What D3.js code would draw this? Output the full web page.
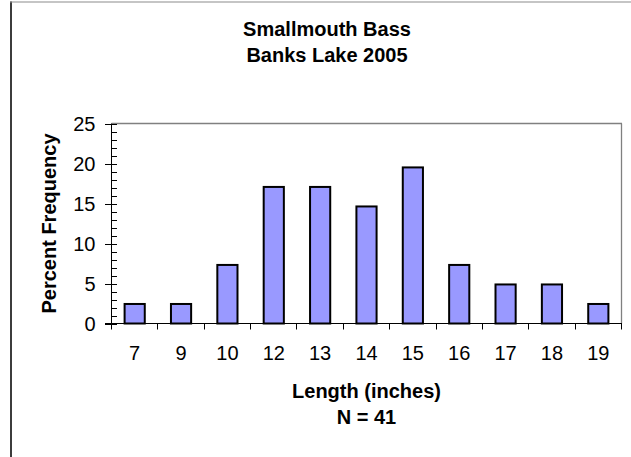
<!DOCTYPE html>
<html>
<head>
<meta charset="utf-8">
<script src="https://cdn.jsdelivr.net/npm/d3@7"></script>
<style>
  html, body { margin: 0; padding: 0; background: #ffffff; }
  svg { display: block; }
  text { font-family: "Liberation Sans", Arial, Helvetica, sans-serif; fill: #000; }
</style>
</head>
<body>
<svg id="chart" width="631" height="457"></svg>
<script>
// ---- data ----
const categories = ["7", "9", "10", "12", "13", "14", "15", "16", "17", "18", "19"];
const percentFrequency = [2.44, 2.44, 7.32, 17.07, 17.07, 14.63, 19.51, 7.32, 4.88, 4.88, 2.44];
const yTickValues = [0, 5, 10, 15, 20, 25];
const titleLines = ["Smallmouth Bass", "Banks Lake 2005"];
const xTitleLines = ["Length (inches)", "N = 41"];
const yTitle = "Percent Frequency";

// ---- layout ----
const svg = d3.select("#chart");
const W = 631, H = 457;
const plot = { left: 111.5, right: 621.5, top: 123.5, bottom: 323.5 };

svg.append("rect").attr("x", 0).attr("y", 0).attr("width", W).attr("height", H).attr("fill", "#fff");

// chart-area frame (left and top visible)
svg.append("line").attr("x1", 11).attr("x2", 11).attr("y1", 1.5).attr("y2", H)
  .attr("stroke", "#3c3c3c").attr("stroke-width", 2);
svg.append("line").attr("x1", 10).attr("x2", W).attr("y1", 2).attr("y2", 2)
  .attr("stroke", "#8c8c8c").attr("stroke-width", 1.2);

// scales
const x = d3.scaleBand().domain(categories).range([plot.left, plot.right]).padding(0);
const xBar = d3.scaleBand().domain(categories).range([plot.left, plot.right])
  .paddingInner(0.565).paddingOuter(0.2825);
const y = d3.scaleLinear().domain([0, 25]).range([plot.bottom, plot.top]);

// plot-area border: top and right in grey
svg.append("line").attr("x1", plot.left).attr("x2", plot.right + 0.5)
  .attr("y1", y(25)).attr("y2", y(25)).attr("stroke", "#808080").attr("stroke-width", 1.3);
svg.append("line").attr("x1", plot.right).attr("x2", plot.right)
  .attr("y1", y(25)).attr("y2", y(0)).attr("stroke", "#808080").attr("stroke-width", 1.3);

// bars
svg.append("g").selectAll("rect").data(categories).join("rect")
  .attr("x", d => xBar(d))
  .attr("y", (d, i) => y(percentFrequency[i]))
  .attr("width", xBar.bandwidth())
  .attr("height", (d, i) => y(0) - y(percentFrequency[i]))
  .attr("fill", "#9999ff")
  .attr("stroke", "#000")
  .attr("stroke-width", 2);

// y axis: major ticks (crossing), minor ticks (inside), labels
const yAxis = svg.append("g").attr("transform", `translate(${plot.left},0)`);
yAxis.append("line").attr("x1", 0).attr("x2", 0).attr("y1", y(25)).attr("y2", y(0))
  .attr("stroke", "#000").attr("stroke-width", 1);
const minorTicks = d3.range(0, 26).filter(v => v % 5 !== 0);
yAxis.selectAll("line.minor").data(minorTicks).join("line").attr("class", "minor")
  .attr("x1", 0).attr("x2", 5.5).attr("y1", d => Math.round(y(d)) + 0.5).attr("y2", d => Math.round(y(d)) + 0.5)
  .attr("stroke", "#000").attr("stroke-width", 1);
yAxis.selectAll("line.major").data(yTickValues).join("line").attr("class", "major")
  .attr("x1", -6.5).attr("x2", 5.5).attr("y1", d => Math.round(y(d)) + 0.5).attr("y2", d => Math.round(y(d)) + 0.5)
  .attr("stroke", "#000").attr("stroke-width", 1);
yAxis.selectAll("text").data(yTickValues).join("text")
  .attr("x", -16).attr("y", d => y(d)).attr("dy", "0.35em")
  .attr("text-anchor", "end").attr("font-size", 20).text(d => d);

// x axis: line, boundary ticks, labels
const xAxis = svg.append("g");
xAxis.append("line").attr("x1", plot.left - 6.5).attr("x2", plot.right + 0.5)
  .attr("y1", y(0)).attr("y2", y(0)).attr("stroke", "#000").attr("stroke-width", 1);
const boundaries = categories.map(c => x(c)).concat([x(categories[categories.length - 1]) + x.bandwidth()]);
xAxis.selectAll("line.tick").data(boundaries).join("line").attr("class", "tick")
  .attr("x1", d => Math.round(d - 0.5) + 0.5).attr("x2", d => Math.round(d - 0.5) + 0.5)
  .attr("y1", y(0)).attr("y2", y(0) + 6)
  .attr("stroke", "#000").attr("stroke-width", 1);
xAxis.selectAll("text").data(categories).join("text")
  .attr("x", d => x(d) + x.bandwidth() / 2).attr("y", 360)
  .attr("text-anchor", "middle").attr("font-size", 20).text(d => d);

// titles
svg.append("g").selectAll("text").data(titleLines).join("text")
  .attr("x", 327).attr("y", (d, i) => 35.5 + i * 26)
  .attr("text-anchor", "middle").attr("font-size", 20).attr("font-weight", "bold").text(d => d);

svg.append("g").selectAll("text").data(xTitleLines).join("text")
  .attr("x", (plot.left + plot.right) / 2).attr("y", (d, i) => 398 + i * 26)
  .attr("text-anchor", "middle").attr("font-size", 20).attr("font-weight", "bold").text(d => d);

svg.append("text")
  .attr("transform", `translate(55.5,${(plot.top + plot.bottom) / 2}) rotate(-90)`)
  .attr("text-anchor", "middle").attr("font-size", 20).attr("font-weight", "bold").text(yTitle);
</script>
</body>
</html>
